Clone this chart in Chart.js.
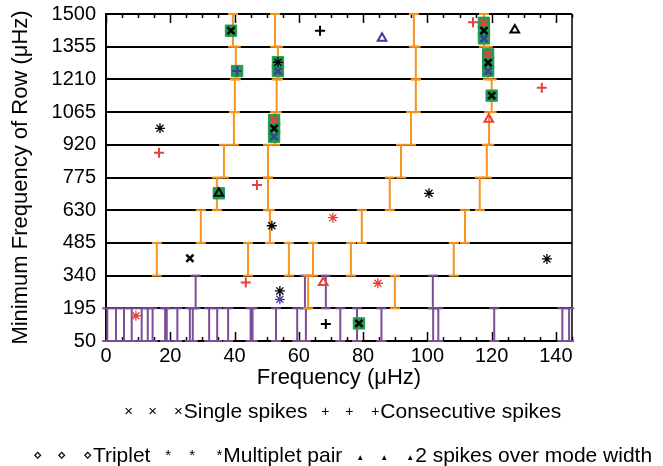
<!DOCTYPE html>
<html>
<head>
<meta charset="utf-8">
<title>Échelle ridges and spike detections</title>
<script src="https://cdn.jsdelivr.net/npm/chart.js@4.4.1/dist/chart.umd.min.js"></script>
<style>
  html, body { margin: 0; padding: 0; background: #fff; }
  #box { position: relative; width: 663px; height: 466px; overflow: hidden; }
  #plot { position: absolute; left: 0; top: 0; }
  .key { position: absolute; left: 0; width: 678px; text-align: center; white-space: nowrap;
         font-family: "Liberation Sans", Arial, sans-serif; font-size: 21px; color: #000; line-height: 24px; }
  .key .s { display: inline-block; width: 24px; text-align: center; vertical-align: 2px; }
  .key .s.last { width: 18px; text-align: right; padding-right: 1px; }
</style>
</head>
<body>
<div id="box">
  <canvas id="plot" width="663" height="466"></canvas>
  <div class="key" id="key1" style="top:399px"></div>
  <div class="key" id="key2" style="top:443px"></div>
</div>
<script>
// Rows of the échelle diagram (µHz)
const rowWidth = 145;
const yTickValues = [50, 195, 340, 485, 630, 775, 920, 1065, 1210, 1355, 1500];
const xTickValues = [0, 20, 40, 60, 80, 100, 120, 140];
const xMinorStep = 5;

// Mode ridges: start frequency of each row and the ridge frequencies in it
const ridgeRows = [1355, 1210, 1065, 920, 775, 630, 485, 340, 195];
const ridgeFreqs = [
  [39.5, 52.6, 95.8, 117.6],
  [40.4, 53.5, 96.4, 118.8],
  [40.1, 53.1, 96.4, 120.0],
  [39.8, 52.6, 94.9, 119.2],
  [36.7, 50.4, 91.8, 118.5],
  [34.5, 50.4, 88.3, 116.3],
  [29.5, 51.0, 79.6, 111.7],
  [15.8, 44.2, 56.9, 64.4, 76.2, 108.2],
  [62.9, 89.9]
];

// Low-frequency peaks
const peakRows = [195, 50];
const peakFreqs = [
  [27.9, 61.9, 68.4, 101.7],
  [0.4, 3.1, 5.6, 8.0, 11.1, 13.0, 14.5, 18.4, 18.9, 22.2, 26.1, 27.0, 32.1, 34.6, 38.0,
   45.0, 45.6, 52.9, 59.5, 62.2, 72.9, 78.1, 85.7, 101.8, 103.4, 120.8, 142.0, 144.1]
];

// Detections [frequency, minimum frequency of row]
const boxed = [[38.9, 1426], [117.6, 1461], [117.6, 1426], [117.6, 1392], [40.8, 1247], [53.5, 1286],
  [53.5, 1247], [118.9, 1321], [118.9, 1284], [118.9, 1247], [120.0, 1138], [52.3, 1030],
  [52.3, 993], [52.3, 956], [35.1, 705], [78.7, 128]];
const singleBlack = [[38.9, 1426], [117.6, 1426], [118.9, 1284], [120.0, 1138], [52.3, 993], [26.1, 417], [78.7, 128]];
const singleRed = [[117.6, 1461], [118.9, 1321], [52.3, 1030]];
const singleBlue = [[117.6, 1392], [53.5, 1247], [118.9, 1247], [52.3, 956]];
const consecBlack = [[66.6, 1426], [68.4, 125]];
const consecRed = [[114.2, 1463], [135.6, 1173], [16.5, 885], [47.0, 742], [43.5, 309]];
const consecBlue = [[40.8, 1247]];
const multBlack = [[16.8, 993], [53.5, 1286], [51.6, 561], [100.5, 705], [137.2, 414], [54.1, 272]];
const multRed = [[70.6, 597], [84.6, 306], [9.3, 162]];
const multBlue = [[54.1, 235]];
const wideBlack = [[127.2, 1429], [35.1, 705]];
const wideRed = [[119.1, 1033], [67.6, 309]];
const wideBlue = [[85.9, 1392]];

// Legend rows: symbol, symbol size (px) and label
const legendRows = [
  [['\u00D7', 15, 'Single spikes'], ['+', 14, 'Consecutive spikes']],
  [['\u22C4', 15, 'Triplet'], ['*', 15, 'Multiplet pair'], ['\u25B2', 8, '2 spikes over mode width']]
];

const BLACK = '#000000', RED = '#e8413c', BLUE = '#3d3d9e', GREEN = '#1f9a4f',
      ORANGE = '#f7941d', PURPLE = '#7b4e98';

// one vertical bar per frequency, spanning its row, separated by gaps
function rowBars(rows, freqs) {
  const pts = [];
  rows.forEach((start, i) => {
    freqs[i].forEach(f => {
      pts.push({x: f, y: start}, {x: f, y: start + rowWidth}, {x: f, y: null});
    });
  });
  return pts;
}
const toPts = arr => arr.map(([x, y]) => ({x, y}));

function barSet(data, color) {
  return {
    type: 'line', data, showLine: true, spanGaps: false, clip: false,
    borderColor: color, borderWidth: 2,
    pointStyle: 'line', pointRadius: 5, pointBorderColor: color, pointBorderWidth: 2,
    pointHoverRadius: 5, order: 10
  };
}
function markSet(data, style, color, radius, width, order) {
  return {
    data: toPts(data), pointStyle: style, pointRadius: radius, pointHoverRadius: radius,
    borderColor: color, pointBorderColor: color, pointBorderWidth: width,
    pointBackgroundColor: 'rgba(0,0,0,0)', clip: false, order: order
  };
}

// inward tick marks on top and bottom frame, plus right frame line
const frame = {
  id: 'frame',
  beforeDatasetsDraw(chart) {
    const {ctx, chartArea: {left, right, top, bottom}, scales: {x}} = chart;
    ctx.save();
    ctx.strokeStyle = '#000';
    ctx.lineWidth = 1.5;
    ctx.beginPath();
    for (let v = x.min; v <= x.max; v += xMinorStep) {
      const px = Math.round(x.getPixelForValue(v)) + 0.5;
      const len = xTickValues.includes(v) ? 9 : 4;
      ctx.moveTo(px, bottom); ctx.lineTo(px, bottom - len);
      ctx.moveTo(px, top); ctx.lineTo(px, top + len);
    }
    ctx.moveTo(right, top); ctx.lineTo(right, bottom);
    ctx.stroke();
    ctx.restore();
  }
};

// fixed axis sizes; tick labels may overhang the plot area
function fixX(s) { s.height = 50; s.paddingLeft = 0; s.paddingRight = 0; }
function fixY(s) { s.width = 106; s.paddingTop = 0; s.paddingBottom = 0; }

Chart.defaults.font.family = "'Liberation Sans', Arial, sans-serif";
Chart.defaults.color = '#000';

new Chart(document.getElementById('plot'), {
  type: 'scatter',
  data: {
    datasets: [
      barSet(rowBars(ridgeRows, ridgeFreqs), ORANGE),
      barSet(rowBars(peakRows, peakFreqs), PURPLE),
      Object.assign(markSet(boxed, 'rect', GREEN, 8, 1, 5), {pointBackgroundColor: GREEN}),
      markSet(singleBlack, 'crossRot', BLACK, 5, 2.5, 1),
      markSet(singleRed, 'crossRot', RED, 5, 2.5, 1),
      markSet(singleBlue, 'crossRot', BLUE, 5, 2.5, 1),
      markSet(consecBlack, 'cross', BLACK, 5, 2, 1),
      markSet(consecRed, 'cross', RED, 5, 2, 1),
      markSet(consecBlue, 'cross', BLUE, 5, 2, 1),
      markSet(multBlack, 'star', BLACK, 5, 1.3, 1),
      markSet(multRed, 'star', RED, 5, 1.3, 1),
      markSet(multBlue, 'star', BLUE, 5, 1.3, 1),
      markSet(wideBlack, 'triangle', BLACK, 5, 2, 1),
      markSet(wideRed, 'triangle', RED, 5, 2, 1),
      markSet(wideBlue, 'triangle', BLUE, 5, 2, 1)
    ]
  },
  options: {
    responsive: false,
    maintainAspectRatio: false,
    devicePixelRatio: 1,
    animation: false,
    events: [],
    layout: {padding: {left: 0, right: 91, top: 14, bottom: 75}},
    plugins: {legend: {display: false}, tooltip: {enabled: false}},
    scales: {
      x: {
        type: 'linear', min: 0, max: 145,
        afterBuildTicks: s => { s.ticks = xTickValues.map(v => ({value: v})); },
        afterFit: fixX,
        grid: {display: false, drawTicks: false},
        border: {display: true, color: '#000', width: 2},
        ticks: {font: {size: 20}, padding: 3, maxRotation: 0, autoSkip: false, callback: v => String(v)},
        title: {display: true, text: 'Frequency (\u03BCHz)', font: {size: 22}, padding: {top: 0, bottom: 0}}
      },
      y: {
        type: 'linear', min: 50, max: 1500,
        afterBuildTicks: s => { s.ticks = yTickValues.map(v => ({value: v})); },
        afterFit: fixY,
        grid: {color: '#000', lineWidth: 2, drawTicks: false},
        border: {display: true, color: '#000', width: 2},
        ticks: {font: {size: 20}, padding: 10, autoSkip: false, callback: v => String(v)},
        title: {display: true, text: 'Minimum Frequency of Row (\u03BCHz)', font: {size: 22}, padding: {top: 8, bottom: 0}}
      }
    }
  },
  plugins: [frame]
});

// legend below the plot
legendRows.forEach((row, i) => {
  const el = document.getElementById('key' + (i + 1));
  row.forEach(([sym, size, label], j) => {
    for (let k = 0; k < 3; k++) {
      const s = document.createElement('span');
      s.className = 's' + (k === 2 ? ' last' : '');
      s.style.fontSize = size + 'px';
      s.textContent = sym;
      el.appendChild(s);
    }
    el.appendChild(document.createTextNode(label + (j < row.length - 1 ? ' ' : '')));
  });
});
</script>
</body>
</html>
